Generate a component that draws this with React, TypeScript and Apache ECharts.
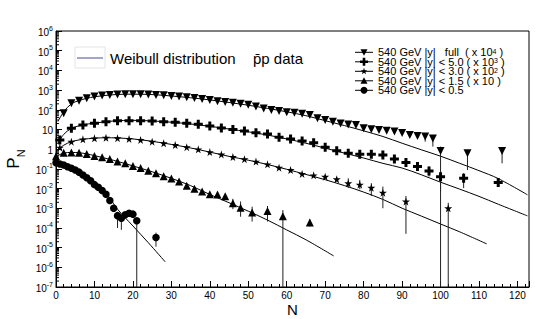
import React, { useEffect, useRef } from 'react';
import * as echarts from 'echarts';

const FONT = '"Liberation Sans", Arial, Helvetica, sans-serif';

// ---- axis ticks ----
const yDecades: number[] = [1e-7, 1e-6, 1e-5, 1e-4, 1e-3, 1e-2, 1e-1, 1, 10, 1e2, 1e3, 1e4, 1e5, 1e6];
const xTicks: number[] = [0, 10, 20, 30, 40, 50, 60, 70, 80, 90, 100, 110, 120];

// ---- data: [N, P_N (scaled)] ----
const fullData: number[][] = [[2,66],[4,214],[6,288],[8,380],[10,468],[12,525],[14,562],[16,589],[18,617],[20,617],[22,617],[24,603],[26,562],[28,550],[30,501],[32,468],[34,427],[36,398],[38,355],[40,316],[42,269],[44,245],[46,224],[48,204],[50,182],[52,145],[54,117],[56,98],[58,87],[60,74],[62,71],[64,63],[66,55],[68,37],[70,30],[72,25],[74,20],[76,18],[78,17],[80,11.5],[82,10.2],[84,9.3],[86,8.5],[88,7.8],[90,6.6],[92,5.2],[94,4.7],[96,4.4],[98,3.5],[100,0.81],[107,0.62],[116,0.81]];
const fullErr: number[][] = [[96,2.4,4.6],[98,1.35,4.7],[100,1e-7,1.35],[107,0.087,0.91],[116,0.19,1.2]];
const fullFit: number[][] = [[0.5,25],[2,79],[4,200],[6,295],[8,380],[10,457],[14,562],[18,617],[22,617],[26,575],[30,501],[35,407],[40,316],[45,234],[50,170],[55,117],[60,79],[65,50],[70,28],[75,15.8],[80,8.5],[85,4.4],[90,2.0],[95,0.93],[100,0.44],[105,0.19],[110,0.081],[115,0.032],[122.6,0.0048]];

const y50Data: number[][] = [[1,2.95],[4,11.5],[7,17],[10,20.4],[13,25],[16,28],[19,28],[22,28],[25,27],[28,25],[31,23],[34,20.4],[37,18.2],[40,14.8],[43,12],[46,10],[49,8.3],[52,6.9],[55,5.9],[58,4.0],[61,3.3],[64,2.6],[67,2.1],[70,1.26],[73,0.83],[76,0.62],[79,0.55],[82,0.55],[85,0.5],[88,0.32],[91,0.21],[94,0.13],[97,0.078],[100,0.04],[106,0.033],[115,0.02]];
const y50Err: number[][] = [[88,0.27,0.38],[91,0.17,0.26],[94,0.1,0.17],[97,0.041,0.13],[100,0.0069,0.072],[106,0.0105,0.06],[115,0.0126,0.0275]];
const y50Fit: number[][] = [[0.5,2.0],[2,5.6],[4,11.2],[7,17],[10,21],[15,27],[20,29],[25,27],[30,23.4],[35,19],[40,14.5],[45,10.5],[50,7.6],[55,5.2],[60,3.3],[65,2.0],[70,1.12],[75,0.63],[80,0.355],[85,0.19],[90,0.11],[95,0.05],[100,0.021],[105,0.0093],[110,0.004],[115,0.0016],[122.6,0.00041]];

const y30Data: number[][] = [[1,1.2],[4,2.4],[7,3.16],[10,3.55],[13,3.8],[16,3.6],[19,3.3],[22,2.95],[25,2.4],[28,2.0],[31,1.62],[34,1.26],[37,0.98],[40,0.71],[43,0.54],[46,0.40],[49,0.31],[52,0.234],[55,0.17],[58,0.115],[61,0.087],[64,0.055],[67,0.047],[70,0.04],[73,0.0295],[76,0.0186],[79,0.0158],[82,0.011],[85,0.0062],[91,0.0022],[102,0.001]];
const y30Err: number[][] = [[70,0.033,0.048],[73,0.024,0.037],[76,0.0105,0.033],[79,0.0091,0.0275],[82,0.0042,0.0186],[85,0.001,0.0126],[91,0.00005,0.0042],[102,1e-7,0.0019]];
const y30Fit: number[][] = [[0.3,0.91],[2,1.58],[4,2.4],[7,3.16],[10,3.6],[13,3.8],[16,3.7],[20,3.3],[25,2.5],[30,1.74],[35,1.15],[40,0.71],[45,0.43],[50,0.275],[55,0.166],[60,0.095],[65,0.052],[70,0.028],[75,0.0141],[80,0.0066],[85,0.0028],[90,0.001],[95,0.0004],[100,0.000158],[105,0.000063],[112,0.0000155]];

const y15Data: number[][] = [[0,0.44],[2,0.66],[4,0.68],[6,0.66],[8,0.56],[10,0.45],[12,0.39],[14,0.32],[16,0.234],[18,0.19],[20,0.141],[22,0.11],[24,0.081],[26,0.060],[28,0.042],[30,0.032],[32,0.023],[34,0.014],[36,0.0098],[38,0.0071],[40,0.0052],[42,0.005],[44,0.004],[46,0.0018],[48,0.00107],[51,0.0006],[55,0.00072],[59,0.00039],[66,0.000186]];
const y15Err: number[][] = [[46,0.0009,0.003],[48,0.00037,0.0022],[51,0.00021,0.0012],[55,0.00021,0.0013],[59,1e-7,0.00081],[66,0.000117,0.000275]];
const y15Fit: number[][] = [[0,0.42],[2,0.63],[4,0.68],[6,0.66],[8,0.575],[10,0.47],[15,0.27],[20,0.141],[25,0.071],[30,0.033],[35,0.0141],[40,0.005],[45,0.0019],[50,0.00071],[55,0.00025],[60,0.000079],[65,0.000025],[72.2,0.0000038]];

const y05Data: number[][] = [[0,0.204],[1,0.178],[2,0.158],[3,0.129],[4,0.107],[5,0.087],[6,0.068],[7,0.049],[8,0.0355],[9,0.025],[10,0.0158],[11,0.0117],[12,0.0079],[13,0.0051],[14,0.00245],[15,0.001],[16,0.00042],[17,0.00031],[18,0.00046],[19,0.00056],[20,0.0005],[21,0.00023],[26,0.0000324]];
const y05Err: number[][] = [[16,0.0001,0.0006],[17,0.00008,0.0004],[21,1e-7,0.0003],[26,0.0000112,0.0000575]];
const y05Fit: number[][] = [[0,0.204],[2,0.151],[4,0.105],[6,0.066],[8,0.038],[10,0.019],[12,0.0083],[14,0.0032],[16,0.00089],[20,0.000126],[24,0.0000178],[28.4,0.0000019]];

const legendLabels: string[][] = [
  ['540 GeV |y|\u00a0\u00a0 full\u00a0 ( x 10', '4', ' )'],
  ['540 GeV |y| < 5.0 ( x 10', '3', ' )'],
  ['540 GeV |y| < 3.0 ( x 10', '2', ' )'],
  ['540 GeV |y| < 1.5 ( x 10 )', '', ''],
  ['540 GeV |y| < 0.5', '', ''],
];

const PLUS = 'path://M3,0h3v3h3v3h-3v3h-3v-3h-3v-3h3z';
const STAR = 'path://M50,0L61,35L98,35L68,57L79,91L50,70L21,91L32,57L2,35L39,35Z';

function errSeries(data: number[][]) {
  return {
    type: 'custom',
    data,
    encode: { x: 0, y: [1, 2] },
    z: 2,
    clip: true,
    silent: true,
    renderItem: (_p: any, api: any) => {
      const a = api.coord([api.value(0), api.value(1)]);
      const b = api.coord([api.value(0), api.value(2)]);
      return { type: 'line', shape: { x1: a[0], y1: a[1], x2: b[0], y2: b[1] }, style: { stroke: '#222', lineWidth: 1 } };
    },
  };
}
function fitSeries(data: number[][]) {
  return { type: 'line', data, smooth: 0.35, showSymbol: false, symbol: 'none', lineStyle: { color: '#000', width: 1 }, z: 1, silent: true };
}
function dotSeries(data: number[][], symbol: string, size: number, rotate = 0) {
  return { type: 'scatter', data, symbol, symbolSize: size, symbolRotate: rotate, itemStyle: { color: '#000', opacity: 1 }, z: 3, silent: true };
}

export default function App() {
  const ref = useRef<HTMLDivElement>(null);
  useEffect(() => {
    const chart = echarts.init(ref.current!, null, { renderer: 'svg' });
    const minor: number[][] = [];
    for (let k = -7; k < 6; k++) for (let m = 2; m <= 9; m++) minor.push([0, m * Math.pow(10, k)]);

    const graphic: any[] = [];
    graphic.push({ type: 'rect', shape: { x: 75, y: 47, width: 30, height: 21 }, style: { fill: '#fff', stroke: '#e4e4e4', lineWidth: 1 } });
    graphic.push({ type: 'line', shape: { x1: 77, y1: 58, x2: 103, y2: 58 }, style: { stroke: '#4b4b96', lineWidth: 1 } });
    graphic.push({ type: 'text', x: 110, y: 58, style: { text: 'Weibull distribution', fill: '#000', font: `15px ${FONT}`, verticalAlign: 'middle' } });
    graphic.push({ type: 'text', x: 253, y: 58, style: { text: 'p\u0304p data', fill: '#000', font: `15px ${FONT}`, verticalAlign: 'middle' } });

    const mx = 364;
    legendLabels.forEach((lab, i) => {
      const y = 52.3 + 9.5 * i;
      graphic.push({ type: 'line', shape: { x1: 355, y1: y, x2: 373, y2: y }, style: { stroke: '#000', lineWidth: 1 } });
      if (i === 0) graphic.push({ type: 'polygon', shape: { points: [[mx - 3.5, y - 3], [mx + 3.5, y - 3], [mx, y + 3.5]] }, style: { fill: '#000' } });
      if (i === 1) graphic.push({ type: 'polygon', shape: { points: [[mx - 1.3, y - 4], [mx + 1.3, y - 4], [mx + 1.3, y - 1.3], [mx + 4, y - 1.3], [mx + 4, y + 1.3], [mx + 1.3, y + 1.3], [mx + 1.3, y + 4], [mx - 1.3, y + 4], [mx - 1.3, y + 1.3], [mx - 4, y + 1.3], [mx - 4, y - 1.3], [mx - 1.3, y - 1.3]] }, style: { fill: '#000' } });
      if (i === 2) {
        const pts: number[][] = [];
        for (let j = 0; j < 10; j++) {
          const r = j % 2 === 0 ? 3.5 : 1.4;
          const a = -Math.PI / 2 + (j * Math.PI) / 5;
          pts.push([mx + r * Math.cos(a), y + r * Math.sin(a)]);
        }
        graphic.push({ type: 'polygon', shape: { points: pts }, style: { fill: '#000' } });
      }
      if (i === 3) graphic.push({ type: 'polygon', shape: { points: [[mx - 3.5, y + 3], [mx + 3.5, y + 3], [mx, y - 3.5]] }, style: { fill: '#000' } });
      if (i === 4) graphic.push({ type: 'circle', shape: { cx: mx, cy: y, r: 3.5 }, style: { fill: '#000' } });
      const txt = lab[1] ? `{t|${lab[0]}}{s|${lab[1]}}{t|${lab[2]}}` : `{t|${lab[0]}}`;
      graphic.push({
        type: 'text', x: 378, y,
        style: {
          text: txt, fill: '#000', verticalAlign: 'middle',
          rich: { t: { fontSize: 11, fontFamily: FONT, lineHeight: 9 }, s: { fontSize: 7, fontFamily: FONT, verticalAlign: 'top', lineHeight: 7 } },
        },
      });
    });

    chart.setOption({
      animation: false,
      backgroundColor: '#fff',
      textStyle: { fontFamily: FONT },
      grid: { left: 56, right: 25, top: 31, bottom: 32, show: true, borderColor: '#000', borderWidth: 1, backgroundColor: 'transparent', containLabel: false, outerBoundsMode: 'none' },
      xAxis: {
        type: 'value', min: 0, max: 123, interval: 10,
        name: 'N', nameLocation: 'middle', nameGap: 15, nameMoveOverlap: false,
        nameTextStyle: { fontSize: 15, color: '#000', fontFamily: FONT, lineHeight: 14 },
        axisLine: { show: true, lineStyle: { color: '#000', width: 1 } },
        axisTick: { show: true, inside: true, length: 6, lineStyle: { color: '#000' } },
        minorTick: { show: true, splitNumber: 5, length: 3, lineStyle: { color: '#000' } },
        axisLabel: { fontSize: 10, color: '#000', margin: 3, fontFamily: FONT, customValues: xTicks },
        splitLine: { show: false },
      },
      yAxis: {
        type: 'log', logBase: 10, min: 1e-7, max: 1e6,
        name: '{p|P}{n|N}', nameLocation: 'middle', nameGap: 30, nameRotate: 90, nameMoveOverlap: false,
        nameTextStyle: { color: '#000', rich: { p: { fontSize: 17, fontFamily: FONT, verticalAlign: 'top', lineHeight: 21 }, n: { fontSize: 11, fontFamily: FONT, verticalAlign: 'bottom', lineHeight: 21 } } },
        axisLine: { show: true, lineStyle: { color: '#000', width: 1 } },
        axisTick: { show: true, inside: true, length: 6, lineStyle: { color: '#000' }, customValues: yDecades },
        minorTick: { show: false },
        splitLine: { show: false },
        axisLabel: {
          color: '#000', margin: 3, customValues: yDecades,
          formatter: (v: number) => {
            const e = Math.round(Math.log10(v));
            if (e === 1) return '{b|10}';
            if (e === 0) return '{b|1}';
            return `{b|10}{s|${e}}`;
          },
          rich: { b: { fontSize: 10, fontFamily: FONT, lineHeight: 13, verticalAlign: 'bottom' }, s: { fontSize: 7, fontFamily: FONT, verticalAlign: 'top', lineHeight: 13 } },
        },
      },
      graphic,
      series: [
        {
          type: 'custom', data: minor, encode: { x: 0, y: 1 }, z: 2, silent: true, clip: false,
          renderItem: (_p: any, api: any) => {
            const a = api.coord([api.value(0), api.value(1)]);
            return { type: 'line', shape: { x1: a[0], y1: a[1], x2: a[0] + 3, y2: a[1] }, style: { stroke: '#000', lineWidth: 1 } };
          },
        },
        fitSeries(fullFit), fitSeries(y50Fit), fitSeries(y30Fit), fitSeries(y15Fit), fitSeries(y05Fit),
        errSeries(fullErr), errSeries(y50Err), errSeries(y30Err), errSeries(y15Err), errSeries(y05Err),
        dotSeries(fullData, 'triangle', 8, 180),
        dotSeries(y50Data, PLUS, 9),
        dotSeries(y30Data, STAR, 8),
        dotSeries(y15Data, 'triangle', 8),
        dotSeries(y05Data, 'circle', 7.5),
      ],
    });
    return () => chart.dispose();
  }, []);
  return <div ref={ref} style={{ position: 'absolute', left: 0, top: 0, width: 554, height: 319, background: '#fff' }} />;
}
